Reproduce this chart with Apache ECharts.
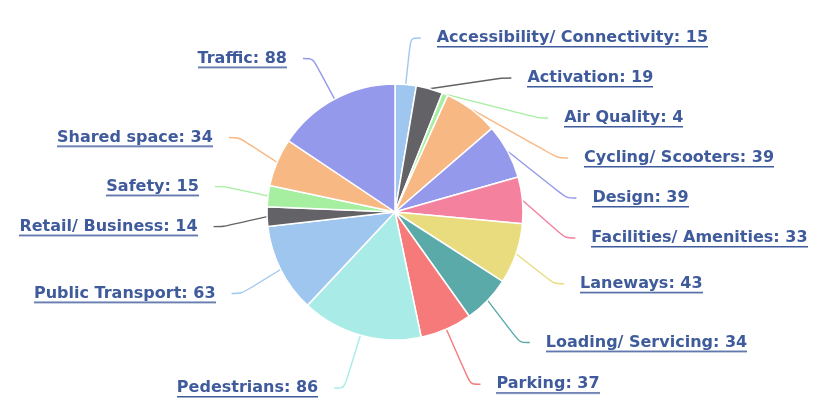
<!DOCTYPE html>
<html>
<head>
<meta charset="utf-8">
<script src="https://cdn.jsdelivr.net/npm/echarts@6/dist/echarts.min.js"></script>
<style>
html,body{margin:0;padding:0;background:#fff;}
#chart{width:819px;height:412px;}
</style>
</head>
<body>
<div id="chart"></div>
<script>
const categories = ["Accessibility/ Connectivity","Activation","Air Quality","Cycling/ Scooters","Design","Facilities/ Amenities","Laneways","Loading/ Servicing","Parking","Pedestrians","Public Transport","Retail/ Business","Safety","Shared space","Traffic"];
const values = [15,19,4,39,39,33,43,34,37,86,63,14,15,34,88];
const palette = ["#9fc6ef","#636367","#a6eea0","#f8b884","#9599ec","#f4819d","#e9dc7f","#5aaaa9","#f67a7a","#a9ece7"];

const LABEL_COLOR = "#3f5b9c";
const BOX_H = 38;
function underlineImage(color){
  const c = document.createElement('canvas');
  c.width = 4; c.height = BOX_H;
  const ctx = c.getContext('2d');
  ctx.fillStyle = color;
  ctx.fillRect(0, 27, 4, 1.5);
  return c;
}
const ul = underlineImage(LABEL_COLOR);

const data = categories.map((name, i) => {
  const col = palette[i % palette.length];
  const item = {
    name: name,
    value: values[i],
    itemStyle: { color: col },
    labelLine: { lineStyle: { color: col } }
  };
  if (name === 'Traffic') item.labelLine.length = 46;
  return item;
});

const chart = echarts.init(document.getElementById('chart'), null, {renderer:'canvas'});
chart.setOption({
  backgroundColor: '#ffffff',
  animation: false,
  series: [{
    type: 'pie',
    left: 0, right: 0, top: 18, bottom: 4,
    center: [395, 194],
    radius: [0, 128],
    startAngle: 90,
    clockwise: true,
    avoidLabelOverlap: true,
    data: data,
    itemStyle: { borderColor: '#ffffff', borderWidth: 1.5 },
    label: {
      show: true,
      position: 'outside',
      formatter: '{b}: {c}',
      color: LABEL_COLOR,
      fontFamily: 'DejaVu Sans',
      fontWeight: 'bold',
      fontSize: 16,
      lineHeight: BOX_H,
      backgroundColor: { image: ul },
      distanceToLabelLine: 16
    },
    labelLine: {
      show: true,
      length: 60,
      length2: 10,
      smooth: 0.3,
      lineStyle: { width: 1.4 }
    }
  }]
});
</script>
</body>
</html>
